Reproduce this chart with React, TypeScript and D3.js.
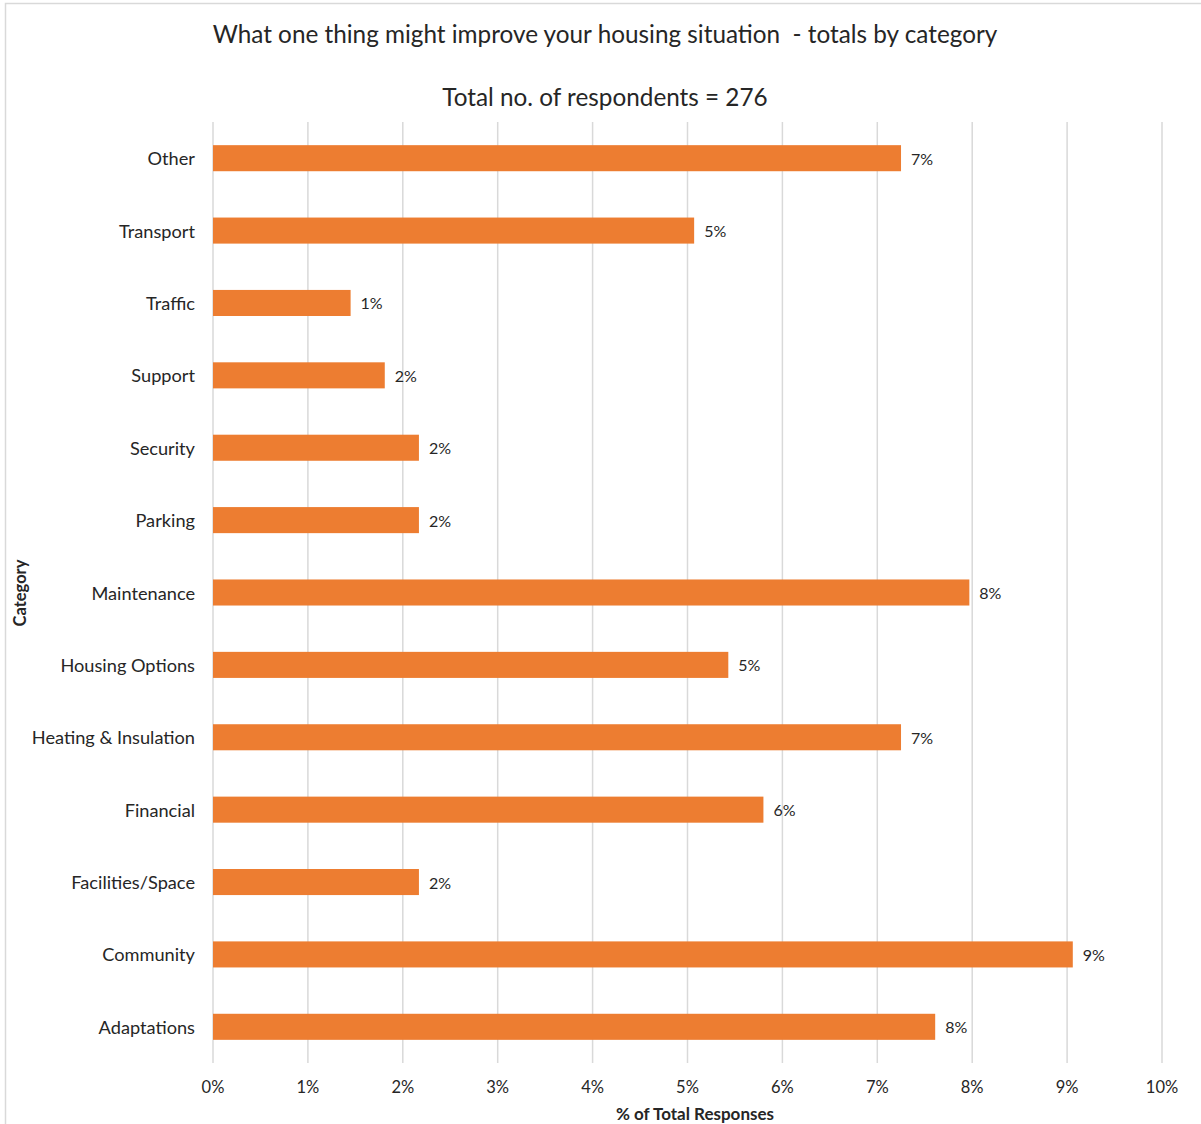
import React from "react";
import * as d3 from "d3";

const categories = [
  "Other",
  "Transport",
  "Traffic",
  "Support",
  "Security",
  "Parking",
  "Maintenance",
  "Housing Options",
  "Heating & Insulation",
  "Financial",
  "Facilities/Space",
  "Community",
  "Adaptations",
];
const values = [7.25, 5.07, 1.45, 1.81, 2.17, 2.17, 7.97, 5.43, 7.25, 5.8, 2.17, 9.06, 7.61];
const valueLabels = ["7%", "5%", "1%", "2%", "2%", "2%", "8%", "5%", "7%", "6%", "2%", "9%", "8%"];
const xTicks = [0, 1, 2, 3, 4, 5, 6, 7, 8, 9, 10];

const W = 1201;
const H = 1124;
const FONT = "Lato, 'Open Sans', sans-serif";
const TEXT = "#262626";

export default function App() {
  const x = d3.scaleLinear().domain([0, 10]).range([213, 1162]);
  const y = d3.scaleBand<string>().domain(categories).range([122, 1063]).paddingInner(0.64).paddingOuter(0.32);

  return (
    <svg
      width={W}
      height={H}
      style={{ position: "absolute", left: 0, top: 0, background: "#fff" }}
      fontFamily={FONT}
    >
      <rect x={5.5} y={3.5} width={W + 20} height={H + 20} fill="#fff" stroke="#d9d9d9" strokeWidth={1.5} />
      <text
        x={605}
        y={33}
        textAnchor="middle"
        dominantBaseline="central"
        fontSize={24.3}
        fill={TEXT}
        style={{ whiteSpace: "pre" }}
      >
        {"What one thing might improve your housing situation  - totals by category"}
      </text>
      <text x={605} y={96} textAnchor="middle" dominantBaseline="central" fontSize={24.3} fill={TEXT}>
        Total no. of respondents = 276
      </text>
      {xTicks.map((t) => (
        <g key={t}>
          <line x1={x(t)} x2={x(t)} y1={122} y2={1063} stroke="#d9d9d9" strokeWidth={1.5} />
          <text x={x(t)} y={1087} textAnchor="middle" dominantBaseline="central" fontSize={16.5} fill={TEXT}>
            {t}%
          </text>
        </g>
      ))}
      {categories.map((c, i) => {
        const yy = y(c)!;
        const bw = y.bandwidth();
        return (
          <g key={c}>
            <rect x={x(0)} y={yy} width={x(values[i]) - x(0)} height={bw} fill="#ed7d31" />
            <text x={195} y={yy + bw / 2} textAnchor="end" dominantBaseline="central" fontSize={18.2} fill={TEXT}>
              {c}
            </text>
            <text x={x(values[i]) + 10} y={yy + bw / 2} dominantBaseline="central" fontSize={16} fill={TEXT}>
              {valueLabels[i]}
            </text>
          </g>
        );
      })}
      <text x={695} y={1113} textAnchor="middle" dominantBaseline="central" fontSize={17} fontWeight="bold" fill={TEXT}>
        % of Total Responses
      </text>
      <text
        transform={`translate(20,593) rotate(-90)`}
        textAnchor="middle"
        dominantBaseline="central"
        fontSize={16.5}
        fontWeight="bold"
        fill={TEXT}
      >
        Category
      </text>
    </svg>
  );
}
